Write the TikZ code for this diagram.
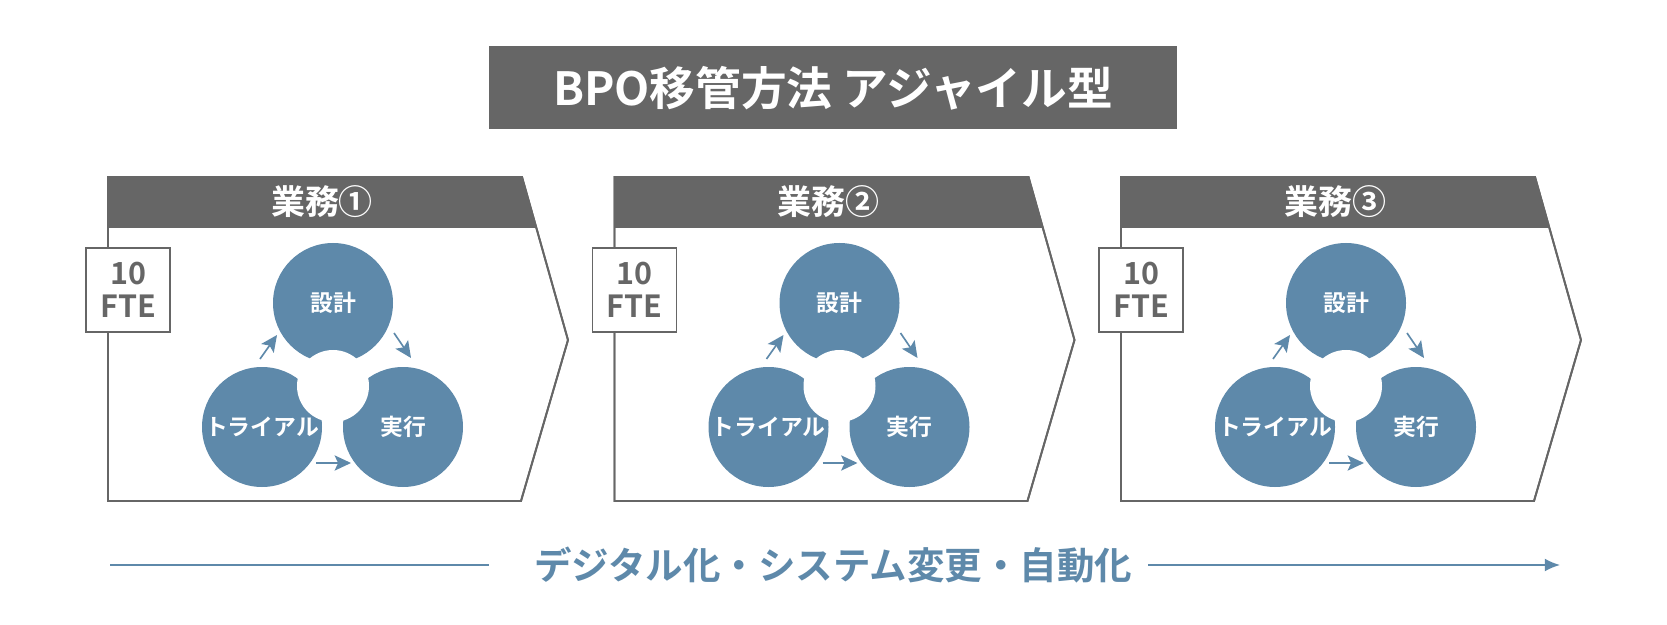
\documentclass[tikz,border=0pt]{standalone}
\usepackage{fontspec}
\setmainfont{Noto Sans CJK JP}[BoldFont=* Bold]
\usetikzlibrary{arrows.meta, positioning, calc}
\definecolor{darkgray}{HTML}{666666}
\definecolor{steel}{HTML}{5E89AA}

\begin{document}
\begin{tikzpicture}[
                    x=0.03cm, y=-0.03cm,
                    frame/.style={draw=darkgray, line width=1.6pt, fill=white},
                    headbar/.style={fill=darkgray},
                    ftebox/.style={draw=darkgray, line width=1.6pt, fill=white, minimum width=84*0.03cm, minimum height=84*0.03cm, align=center, text=darkgray, font=\bfseries\fontsize{26}{28}\selectfont, inner sep=0pt},
                    step circle/.style={circle, fill=steel, minimum size=120*0.03cm, inner sep=0pt},
                    step label/.style={text=white, font=\bfseries\fontsize{19.5}{19.5}\selectfont},
                    hole/.style={circle, fill=white, minimum size=72*0.03cm, inner sep=0pt},
                    cyc/.style={draw=steel, line width=1.4pt, -{Stealth[length=14pt, width=13pt, inset=3pt]}}
                    ]
  \useasboundingbox (0,0) rectangle (1667,625);

  % title
  \node[fill=darkgray, minimum width=688*0.03cm, minimum height=83*0.03cm, text=white, font=\bfseries\fontsize{39}{39}\selectfont] (title) at (833,88) {BPO移管方法\ アジャイル型};

  % three work blocks
  \foreach \i/\dx/\lab in {1/0/①, 2/506.5/②, 3/1013/③} {
    \begin{scope}[xshift=\dx*0.03cm]
      \draw[frame] (108,177) -- (522,177) -- (568,340) -- (521,501) -- (108,501) -- cycle;
      \fill[headbar] (108,177) -- (522,177) -- (536,228) -- (108,228) -- cycle;
      \draw[frame, fill=none] (108,177) -- (522,177) -- (568,340) -- (521,501) -- (108,501) -- cycle;
      \node[text=white, font=\bfseries\fontsize{29}{29}\selectfont] (head\i) at (322,202) {業務\lab};
      \node[ftebox] (fte\i) at (128,290) {10\\FTE};

      \node[step circle] (design\i) at (333,303) {};
      \node[step circle] (trial\i) at (262,427) {};
      \node[step circle] (run\i) at (403,427) {};
      \node[hole] (hole\i) at (333,386) {};
      \node[step label] at (design\i) {設計};
      \node[step label] at (trial\i) {トライアル};
      \node[step label] at (run\i) {実行};

      \coordinate (a\i) at (260,359);
      \coordinate (b\i) at (277,335);
      \coordinate (c\i) at (394,333);
      \coordinate (d\i) at (411,358);
      \coordinate (e\i) at (316,463);
      \coordinate (f\i) at (351,463);
      \draw[cyc] (a\i) -- (b\i);
      \draw[cyc] (c\i) -- (d\i);
      \draw[cyc] (e\i) -- (f\i);
    \end{scope}
  }

  % bottom arrow
  \node[text=steel, font=\bfseries\fontsize{32}{32}\selectfont] (digital) at (833,565) {デジタル化・システム変更・自動化};
  \coordinate (start) at (110,565);
  \coordinate (goal) at (1560,565);
  \draw[steel, line width=1.4pt] (start) -- (489,565);
  \draw[steel, line width=1.4pt, -{Latex[length=13pt, width=11pt]}] (1148,565) -- (goal);
\end{tikzpicture}
\end{document}
